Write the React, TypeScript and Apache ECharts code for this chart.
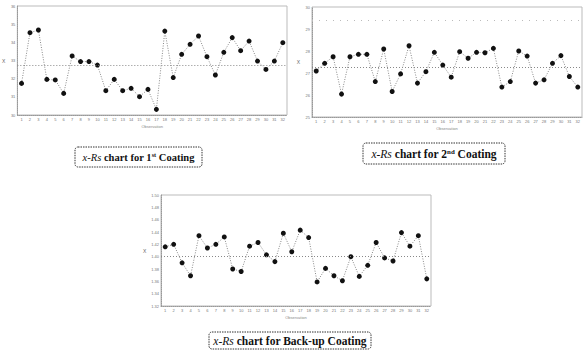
import React, { useEffect, useRef } from "react";
import * as echarts from "echarts";

const observations = Array.from({ length: 32 }, (_, i) => String(i + 1));

const coating1 = [31.74, 34.53, 34.68, 31.96, 31.93, 31.19, 33.25, 32.94, 32.94, 32.75, 31.34, 31.96, 31.34, 31.47, 31.01, 31.41, 30.31, 34.62, 32.06, 33.34, 33.89, 34.35, 33.21, 32.2, 33.45, 34.26, 33.54, 34.07, 32.97, 32.51, 32.97, 33.98];
const coating1Center = 32.75;

const coating2 = [27.09, 27.44, 27.74, 26.04, 27.74, 27.85, 27.85, 26.61, 28.09, 26.16, 26.96, 28.24, 26.54, 27.06, 27.94, 27.36, 26.81, 27.97, 27.67, 27.94, 27.92, 28.12, 26.36, 26.61, 28.0, 27.77, 26.54, 26.69, 27.44, 27.79, 26.84, 26.36];
const coating2Center = 27.24;
const coating2Upper = 29.4;

const backup = [1.416, 1.42, 1.39, 1.369, 1.434, 1.414, 1.42, 1.432, 1.38, 1.376, 1.417, 1.423, 1.403, 1.392, 1.438, 1.408, 1.443, 1.431, 1.359, 1.381, 1.369, 1.361, 1.4, 1.368, 1.386, 1.423, 1.398, 1.393, 1.439, 1.417, 1.434, 1.364];
const backupCenter = 1.403;

const captions = [
  { lead: "x-Rs", mid: " chart for 1", sup: "st", tail: " Coating" },
  { lead: "x-Rs", mid: " chart for 2", sup: "nd", tail: " Coating" },
  { lead: "x-Rs", mid: " chart for Back-up Coating", sup: "", tail: "" },
];

const grids = [
  { left: 17, top: 6, width: 270, height: 109 },
  { left: 312, top: 7, width: 271, height: 110 },
  { left: 161, top: 195, width: 270, height: 111 },
];

const yAxes = [
  { min: 30, max: 36, interval: 1, dec: 0 },
  { min: 25, max: 30, interval: 1, dec: 0 },
  { min: 1.32, max: 1.5, interval: 0.02, dec: 2 },
];

export default function App() {
  const ref = useRef<HTMLDivElement>(null);
  useEffect(() => {
    if (!ref.current) return;
    const chart = echarts.init(ref.current, null, { renderer: "svg" });
    const tickColor = "#777";
    const xAxis = grids.map((_, i) => ({
      type: "category",
      gridIndex: i,
      data: observations,
      boundaryGap: true,
      name: "Observation",
      nameLocation: "middle",
      nameGap: 9,
      nameTextStyle: { fontSize: 4, color: "#888", fontFamily: "Liberation Sans" },
      axisLine: { lineStyle: { color: "#999", type: "dotted" } },
      axisTick: { show: false },
      axisLabel: { fontSize: 4, color: tickColor, margin: 2, interval: 0, fontFamily: "Liberation Sans" },
      splitLine: { show: false },
    }));
    const yAxis = yAxes.map((a, i) => ({
      type: "value",
      gridIndex: i,
      min: a.min,
      max: a.max,
      interval: a.interval,
      name: "X",
      nameLocation: "middle",
      nameGap: 12,
      nameRotate: 0,
      nameTextStyle: { fontSize: 5, color: "#666", fontFamily: "Liberation Sans" },
      axisLine: { show: true, lineStyle: { color: "#999", type: "dotted" } },
      axisTick: { show: false },
      axisLabel: {
        fontSize: 4,
        color: tickColor,
        margin: 2,
        fontFamily: "Liberation Sans",
        formatter: (v: number) => v.toFixed(a.dec),
      },
      splitLine: { show: false },
    }));
    const dataSets = [coating1, coating2, backup];
    const centers = [coating1Center, coating2Center, backupCenter];
    const series: any[] = dataSets.map((d, i) => {
      const lines: any[] = [{ yAxis: centers[i] }];
      if (i === 1) lines.push({ yAxis: coating2Upper, lineStyle: { color: "#bbb", type: [1, 6], width: 1 } });
      return {
        type: "line",
        xAxisIndex: i,
        yAxisIndex: i,
        data: d,
        symbol: "circle",
        symbolSize: 5,
        itemStyle: { color: "#111" },
        lineStyle: { color: "#888", width: 1, type: [1, 1.5] },
        markLine: {
          silent: true,
          symbol: "none",
          label: { show: false },
          lineStyle: { color: "#888", width: 1, type: [1, 2] },
          data: lines,
        },
      };
    });
    const boxes = [
      { x: 75, y: 147, w: 127, h: 20, fs: 10.5 },
      { x: 363, y: 143, w: 142, h: 21, fs: 11.5 },
      { x: 209, y: 332, w: 162, h: 17, fs: 11.5 },
    ];
    const graphic: any[] = [];
    boxes.forEach((b, i) => {
      const c = captions[i];
      graphic.push({
        type: "rect",
        shape: { x: b.x, y: b.y, width: b.w, height: b.h, r: 3 },
        style: { fill: "none", stroke: "#333", lineWidth: 1, lineDash: [1.5, 1] },
      });
      graphic.push({
        type: "text",
        x: b.x + b.w / 2,
        y: b.y + b.h / 2,
        style: {
          text: `{i|${c.lead}}{n|${c.mid}}${c.sup ? `{s|${c.sup}}` : ""}{n|${c.tail}}`,
          align: "center",
          verticalAlign: "middle",
          rich: {
            i: { fontFamily: "Liberation Serif", fontStyle: "italic", fontSize: b.fs, fill: "#111" },
            n: { fontFamily: "Liberation Serif", fontWeight: "bold", fontSize: b.fs, fill: "#111" },
            s: { fontFamily: "Liberation Serif", fontWeight: "bold", fontSize: b.fs * 0.6, fill: "#111", verticalAlign: "top", padding: [0, 0, 4, 0] },
          },
        },
      });
    });
    chart.setOption({
      animation: false,
      backgroundColor: "#fff",
      grid: grids.map((g) => ({ ...g, show: true, borderColor: "#bbb", borderWidth: 1, backgroundColor: "transparent" })),
      xAxis,
      yAxis,
      series,
      graphic,
    });
    return () => chart.dispose();
  }, []);
  return (
    <div
      ref={ref}
      style={{ position: "fixed", left: 0, top: 0, width: 583, height: 356, background: "#fff" }}
    />
  );
}
